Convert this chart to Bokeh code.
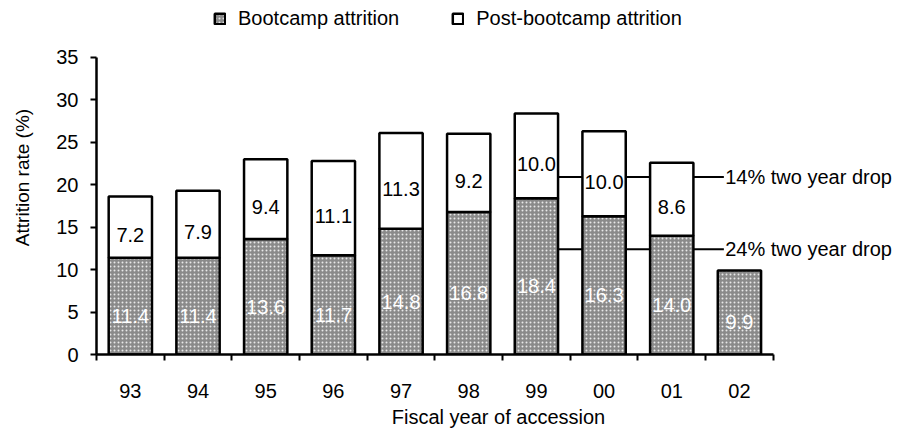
from bokeh.plotting import figure
from bokeh.models import ColumnDataSource, FixedTicker, Legend, LegendItem, Range1d
from bokeh.core.properties import value
from bokeh.embed import file_html
from bokeh.resources import INLINE

# ---- data ----
years = ["93", "94", "95", "96", "97", "98", "99", "00", "01", "02"]
bootcamp = [11.4, 11.4, 13.6, 11.7, 14.8, 16.8, 18.4, 16.3, 14.0, 9.9]
post_bootcamp = [7.2, 7.9, 9.4, 11.1, 11.3, 9.2, 10.0, 10.0, 8.6]  # no value for 02
drop_labels = ["14% two year drop", "24% two year drop"]
drop_levels = [20.9, 12.4]

FONT = "Liberation Sans"

xs = [i + 0.5 for i in range(len(years))]
bsrc = ColumnDataSource(dict(
    x=xs, top=bootcamp, mid=[b / 2 for b in bootcamp],
    lab=[f"{b:.1f}" for b in bootcamp]))
n = len(post_bootcamp)
psrc = ColumnDataSource(dict(
    x=xs[:n], bottom=bootcamp[:n],
    top=[b + p for b, p in zip(bootcamp[:n], post_bootcamp)],
    mid=[b + p / 2 for b, p in zip(bootcamp[:n], post_bootcamp)],
    lab=[f"{p:.1f}" for p in post_bootcamp]))

p = figure(width=900, height=430, output_backend="svg", toolbar_location=None,
           x_range=Range1d(0, 11.88), y_range=Range1d(0, 41.7),
           min_border_left=96, min_border_right=0, min_border_top=0,
           min_border_bottom=75)
p.outline_line_color = None
p.xgrid.visible = False
p.ygrid.visible = False

# annotation lines (behind bars)
x_start = xs[6]
x_end = 9.27
for lvl, lab in zip(drop_levels, drop_labels):
    p.line([x_start, x_end], [lvl, lvl], line_color="black", line_width=2)
    p.text([x_end + 0.02], [lvl], text=[lab], text_font=value(FONT),
           text_font_size="20px", text_baseline="middle", text_align="left",
           text_color="black")

bw = 0.64
r_boot = p.vbar(x="x", top="top", bottom=0, width=bw, source=bsrc,
                fill_color="#8a8a8a", line_color="black", line_width=2.5,
                hatch_pattern="dot", hatch_color="white", hatch_scale=4,
                hatch_weight=1.2, hatch_alpha=0.8)
r_post = p.vbar(x="x", top="top", bottom="bottom", width=bw, source=psrc,
                fill_color="white", line_color="black", line_width=2.5)

p.text(x="x", y="mid", text="lab", source=bsrc, text_font=value(FONT),
       text_font_size="20px", text_align="center", text_baseline="middle",
       y_offset=10, text_color="white")
p.text(x="x", y="mid", text="lab", source=psrc, text_font=value(FONT),
       text_font_size="20px", text_align="center", text_baseline="middle",
       y_offset=8, text_color="black")

# x axis
xa = p.xaxis[0]
xa.ticker = FixedTicker(ticks=xs, minor_ticks=list(range(len(years) + 1)))
xa.major_label_overrides = {x: y for x, y in zip(xs, years)}
xa.bounds = (0, len(years))
xa.axis_line_color = "black"
xa.major_tick_line_color = None
xa.major_tick_out = 0
xa.major_tick_in = 0
xa.minor_tick_line_color = "black"
xa.minor_tick_out = 6
xa.minor_tick_in = 0
xa.minor_tick_line_width = 2
xa.axis_line_width = 2.5
xa.major_label_standoff = 23
xa.major_label_text_font = FONT
xa.major_label_text_font_size = "20px"
xa.major_label_text_color = "black"
xa.axis_label = "Fiscal year of accession"
xa.axis_label_text_font = FONT
xa.axis_label_text_font_size = "20px"
xa.axis_label_text_font_style = "normal"
xa.axis_label_text_color = "black"
xa.axis_label_standoff = 5

# y axis
ya = p.yaxis[0]
ya.ticker = FixedTicker(ticks=list(range(0, 36, 5)))
ya.bounds = (0, 35)
ya.axis_line_color = "black"
ya.minor_tick_line_color = None
ya.major_tick_line_color = "black"
ya.major_tick_out = 6
ya.major_tick_in = 0
ya.major_tick_line_width = 2
ya.axis_line_width = 2.5
ya.major_label_standoff = 12
ya.major_label_text_font = FONT
ya.major_label_text_font_size = "20px"
ya.major_label_text_color = "black"
ya.axis_label = "Attrition rate (%)"
ya.axis_label_text_font = FONT
ya.axis_label_text_font_size = "19px"
ya.axis_label_text_font_style = "normal"
ya.axis_label_text_color = "black"
ya.axis_label_standoff = 20

legend = Legend(items=[LegendItem(label="Bootcamp attrition", renderers=[r_boot]),
                       LegendItem(label="Post-bootcamp attrition", renderers=[r_post])],
                orientation="horizontal", location=(117, 324),
                glyph_width=13, glyph_height=13, label_standoff=12, spacing=52,
                padding=0, margin=0, border_line_color=None,
                background_fill_alpha=0, label_text_font=FONT,
                label_text_font_size="20px", label_text_color="black")
p.add_layout(legend, "center")

open("out.html", "w").write(file_html(p, INLINE))
